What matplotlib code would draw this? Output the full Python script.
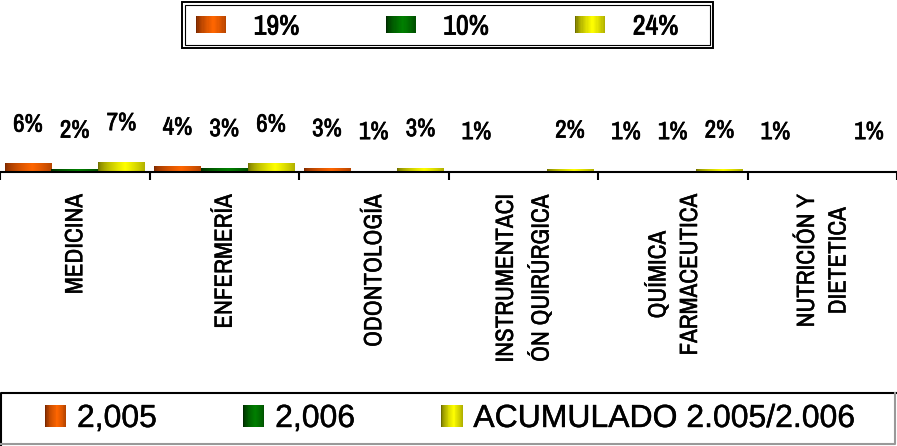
import numpy as np
import matplotlib
matplotlib.use("Agg")
import matplotlib.pyplot as plt
import matplotlib.patheffects as pe
from matplotlib.patches import Rectangle, Patch
from matplotlib.lines import Line2D
from matplotlib.legend_handler import HandlerBase

# datos
carreras = ["MEDICINA", "ENFERMERÍA", "ODONTOLOGÍA", "INSTRUMENTACI\nÓN QUIRÚRGICA",
            "QUÍMICA\nFARMACEUTICA", "NUTRICIÓN Y\nDIETETICA"]
v2005 = [6, 4, 3, 1, 1, 1]
v2006 = [2, 3, 1, 0, 1, 0]
acumulado = [7, 6, 3, 2, 2, 1]
series = ["2,005", "2,006", "ACUMULADO 2.005/2.006"]
totales = ["19%", "10%", "24%"]

# colores (oscuro, claro) para el degradado
col_2005 = ("#7a2800", "#ff6600")
col_2006 = ("#002a00", "#008000")
col_acum = ("#6e6e00", "#ffff00")

angosta = ["Archivo Narrow", "Liberation Sans"]
normal = ["Liberation Sans", "DejaVu Sans"]


def trazo(lw):
    return [pe.withStroke(linewidth=lw, foreground="black")]


def degradado(oscuro, claro, n=64):
    a = np.array(matplotlib.colors.to_rgb(oscuro))
    b = np.array(matplotlib.colors.to_rgb(claro))
    t = np.linspace(0, 1, n)
    f = np.clip(1 - np.abs(t - 0.58) / 0.58, 0, 1) ** 0.6
    return a + (b - a) * f[:, None]


class HandlerDegradado(HandlerBase):
    def __init__(self, oscuro, claro):
        super().__init__()
        self.g = degradado(oscuro, claro, 24)

    def create_artists(self, legend, orig_handle, xdescent, ydescent, width, height, fontsize, trans):
        n = len(self.g)
        arts = []
        for k in range(n):
            r = Rectangle((-xdescent + width * k / n, -ydescent), width / n * 1.05, height,
                          facecolor=self.g[k], edgecolor="none", transform=trans)
            arts.append(r)
        return arts


fig = plt.figure(figsize=(8.97, 4.46), dpi=100)
ax = fig.add_axes([0, 274 / 446, 1, 120 / 446])

x = np.arange(len(carreras))
w = 0.313
for vals, off, cols in [(v2005, -w, col_2005), (v2006, 0, col_2006), (acumulado, w, col_acum)]:
    barras = ax.bar(x + off, vals, w, color=cols[1], zorder=1)
    g = degradado(*cols)
    for b, v in zip(barras, vals):
        if v <= 0:
            continue
        im = ax.imshow(g[None, :, :], extent=[b.get_x(), b.get_x() + b.get_width(), 0, b.get_height()],
                       aspect="auto", zorder=2, interpolation="bilinear")
        im.set_clip_path(b)
        ax.annotate(f"{v}%", (b.get_x() + b.get_width() / 2, v), xytext=(0, 28),
                    textcoords="offset points", ha="center", va="center",
                    fontsize=18, family=angosta, path_effects=trazo(0.5))

ax.set_xlim(-0.5, 5.5)
ax.set_ylim(0, 80)
for s in ["top", "left", "right"]:
    ax.spines[s].set_visible(False)
ax.spines["bottom"].set_linewidth(1.5)
ax.spines["bottom"].set_zorder(3)
ax.set_yticks([])
ax.set_xticks(x)
ax.set_xticklabels(carreras, rotation=90, fontsize=18, family=angosta, linespacing=1.45)
for t in ax.get_xticklabels():
    t.set_multialignment("center")
    t.set_path_effects(trazo(0.3))
ax.tick_params(axis="x", which="major", length=0, pad=16)
ax.set_xticks(np.arange(-0.5, 6), minor=True)
ax.tick_params(axis="x", which="minor", length=6, width=1.5, color="black")

# leyenda superior
h = [Patch(), Patch(), Patch()]
hm = {h[0]: HandlerDegradado(*col_2005), h[1]: HandlerDegradado(*col_2006), h[2]: HandlerDegradado(*col_acum)}
ley = fig.legend(h, totales, handler_map=hm, loc="center left", bbox_to_anchor=(196 / 897, 1 - 27 / 446),
                 frameon=False, ncol=3, prop={"family": angosta, "size": 20},
                 handlelength=1.08, handleheight=0.58, handletextpad=1.0, columnspacing=3.1,
                 borderpad=0, borderaxespad=0)
for t in ley.get_texts():
    t.set_path_effects(trazo(0.6))
fig.patches.append(Rectangle((182 / 897, 1 - 48 / 446), 531 / 897, 46 / 446, transform=fig.transFigure,
                             fill=False, edgecolor="black", linewidth=1.4))
fig.patches.append(Rectangle((185 / 897, 1 - 45 / 446), 525 / 897, 40 / 446, transform=fig.transFigure,
                             fill=False, edgecolor="black", linewidth=0.8))

# leyenda inferior
h2 = [Patch(), Patch(), Patch()]
hm2 = {h2[0]: HandlerDegradado(*col_2005), h2[1]: HandlerDegradado(*col_2006), h2[2]: HandlerDegradado(*col_acum)}
ley2 = fig.legend(h2, series, handler_map=hm2, loc="center left", bbox_to_anchor=(45 / 897, 1 - 419 / 446),
                  frameon=False, ncol=3, prop={"family": normal, "size": 23},
                  handlelength=0.66, handleheight=0.66, handletextpad=0.34, columnspacing=2.7,
                  borderpad=0, borderaxespad=0)
for t in ley2.get_texts():
    t.set_path_effects(trazo(0.3))
fig.add_artist(Line2D([1 / 897, 1 / 897, 896 / 897], [1 / 446, 1 - 393 / 446, 1 - 393 / 446],
                      transform=fig.transFigure, color="black", linewidth=1.5))
fig.add_artist(Line2D([1 / 897, 895 / 897, 895 / 897], [2 / 446, 2 / 446, 1 - 393 / 446],
                      transform=fig.transFigure, color="#999999", linewidth=1.5))

fig.savefig("out.png", dpi=100)
